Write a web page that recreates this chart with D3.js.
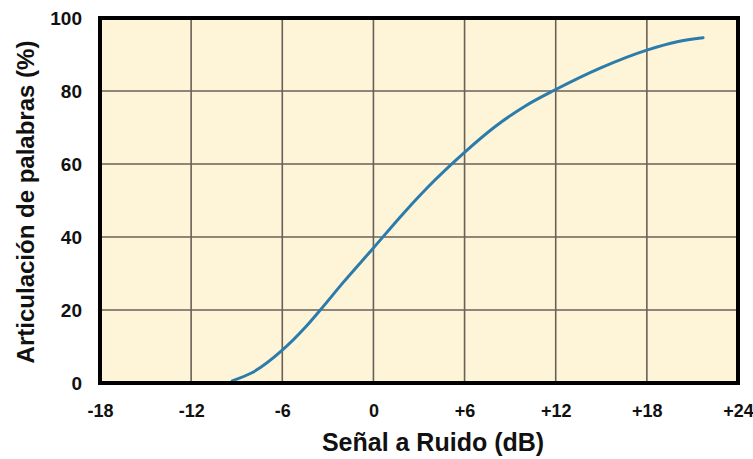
<!DOCTYPE html>
<html>
<head>
<meta charset="utf-8">
<script src="https://cdn.jsdelivr.net/npm/d3@7"></script>
<style>
  body { margin: 0; background: #fff; }
  text { font-family: "Liberation Sans", Arial, sans-serif; font-weight: bold; fill: #111; }
</style>
</head>
<body>
<div id="chart"></div>
<script>
// data
const snr = [-9.3, -8, -6, -4.5, -3.5, -2, 0, 2, 4, 6, 8, 10, 12, 15, 18, 20, 21.7];
const articulation = [0.6, 2.8, 9, 15.2, 20, 27.5, 37, 46.6, 55.4, 63.2, 70.2, 75.9, 80.4, 86.4, 91.2, 93.5, 94.6];
const xTicks = [-18, -12, -6, 0, 6, 12, 18, 24];
const yTicks = [0, 20, 40, 60, 80, 100];

const W = 753, H = 459;
const margin = {left: 100, right: 738, top: 18, bottom: 383};

const svg = d3.select("#chart").append("svg")
  .attr("width", W).attr("height", H);

const x = d3.scaleLinear().domain([-18, 24]).range([margin.left, margin.right]);
const y = d3.scaleLinear().domain([0, 100]).range([margin.bottom, margin.top]);

// background
svg.append("rect")
  .attr("x", margin.left).attr("y", margin.top)
  .attr("width", margin.right - margin.left).attr("height", margin.bottom - margin.top)
  .attr("fill", "#fef4d7");

// grid
svg.append("g").selectAll("line")
  .data(xTicks.slice(1, -1))
  .join("line")
  .attr("x1", d => x(d)).attr("x2", d => x(d))
  .attr("y1", margin.top).attr("y2", margin.bottom)
  .attr("stroke", "#6a6058").attr("stroke-width", 1.6);

svg.append("g").selectAll("line")
  .data(yTicks.slice(1, -1))
  .join("line")
  .attr("x1", margin.left).attr("x2", margin.right)
  .attr("y1", d => y(d)).attr("y2", d => y(d))
  .attr("stroke", "#6a6058").attr("stroke-width", 1.6);

// curve
const pts = snr.map((d, i) => [d, articulation[i]]);
svg.append("path")
  .datum(pts)
  .attr("fill", "none")
  .attr("stroke", "#2b7bab")
  .attr("stroke-width", 3)
  .attr("stroke-linecap", "round")
  .attr("d", d3.line().x(d => x(d[0])).y(d => y(d[1])).curve(d3.curveMonotoneX));

// frame
svg.append("rect")
  .attr("x", margin.left).attr("y", margin.top)
  .attr("width", margin.right - margin.left).attr("height", margin.bottom - margin.top)
  .attr("fill", "none").attr("stroke", "#000").attr("stroke-width", 4);

// x axis labels
const xAxis = svg.append("g")
  .attr("transform", `translate(0,${margin.bottom})`)
  .call(d3.axisBottom(x).tickValues(xTicks).tickSize(0).tickPadding(0)
    .tickFormat(d => d > 0 ? "+" + d : String(d)));
xAxis.select(".domain").remove();
xAxis.selectAll("text")
  .attr("y", 34).attr("dy", null)
  .style("font-size", "18px");

// y axis labels
const yAxis = svg.append("g")
  .attr("transform", `translate(${margin.left},0)`)
  .call(d3.axisLeft(y).tickValues(yTicks).tickSize(0).tickPadding(0));
yAxis.select(".domain").remove();
yAxis.selectAll("text")
  .attr("x", -18).attr("dy", "0.36em")
  .style("font-size", "19px");

// titles
svg.append("text")
  .attr("x", 433).attr("y", 451)
  .attr("text-anchor", "middle")
  .style("font-size", "25px")
  .text("Señal a Ruido (dB)");

svg.append("text")
  .attr("transform", `translate(34,202) rotate(-90)`)
  .attr("text-anchor", "middle")
  .style("font-size", "24px")
  .text("Articulación de palabras (%)");
</script>
</body>
</html>
